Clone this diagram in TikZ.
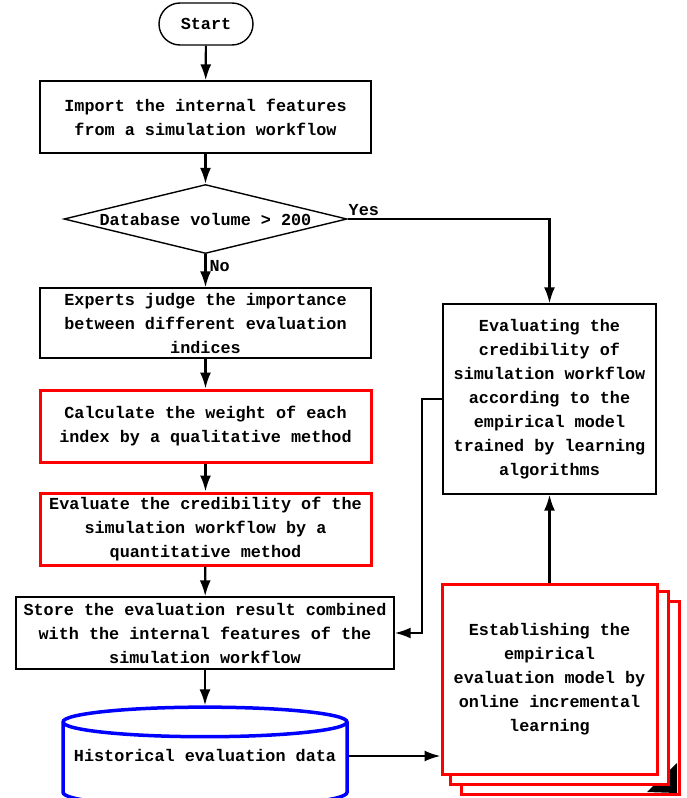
\documentclass[tikz,border=0pt]{standalone}
\usepackage{fontspec}
\setmainfont{Liberation Mono}
\usetikzlibrary{shapes, arrows.meta, backgrounds, positioning}

\begin{document}
\begin{tikzpicture}[x=1pt,y=-1pt,
	font=\fontsize{16.8}{24}\selectfont\bfseries,
	proc/.style={draw,rectangle,line width=1.4pt,align=center,inner sep=0pt},
	redproc/.style={proc,draw=red,line width=3pt},
	redpage/.style={draw=red,fill=white,line width=3pt},
	flow/.style={-{Latex[length=16pt,width=11pt]},line width=2.2pt}]
	  \useasboundingbox (0,0) rectangle (686,798);
	  \node at (206,24) (start) [proc,rounded corners=21pt,minimum width=94pt,minimum height=42pt]{Start};
	  \node at (205.5,117) (import) [proc,minimum width=331pt,minimum height=72pt]{Import the internal features\\from a simulation workflow};
	  \node at (205.5,219) (volume) [draw,diamond,aspect=4.1,line width=1.4pt,inner sep=0pt,minimum width=283pt,minimum height=69pt]{Database volume > 200};
	  \node at (205.5,323) (judge) [proc,minimum width=331pt,minimum height=70pt]{Experts judge the importance\\between different evaluation\\indices};
	  \node at (205.5,426) (weight) [redproc,minimum width=331pt,minimum height=72pt]{Calculate the weight of each\\index by a qualitative method};
	  \node at (205.5,529) (quant) [redproc,minimum width=331pt,minimum height=72pt]{Evaluate the credibility of the\\simulation workflow by a\\quantitative method};
	  \node at (205,633) (store) [proc,minimum width=378pt,minimum height=72pt]{Store the evaluation result combined\\with the internal features of the\\simulation workflow};
	  \node at (205,767) (hist) [draw=blue,cylinder,shape border rotate=90,aspect=0.11,line width=3.5pt,text depth=24pt,minimum width=284pt,minimum height=100pt]{Historical evaluation data};
	  \node at (549.5,399) (credit) [proc,minimum width=213pt,minimum height=190pt]{Evaluating the\\credibility of\\simulation workflow\\according to the\\empirical model\\trained by learning\\algorithms};
	  \node at (549.5,679) (learn) [redproc,fill=white,minimum width=215pt,minimum height=190pt]{Establishing the\\empirical\\evaluation model by\\online incremental\\learning};
	  \begin{scope}[on background layer]
	    \draw[redpage] ([shift={(21,19)}]learn.north west) rectangle ([shift={(21,19)}]learn.south east);
	    \fill (647,792) -- (677,763) -- (677,793) -- cycle;
	    \draw[redpage] ([shift={(10,9)}]learn.north west) rectangle ([shift={(10,9)}]learn.south east);
	  \end{scope}
	  \draw[flow](start) -- (import);
	  \draw[flow](import) -- (volume);
	  \draw[flow](volume) -- node[right,pos=0.35,inner sep=3pt]{No} (judge);
	  \draw[flow](volume.east) -| node[above,pos=0.04,inner sep=2pt]{Yes} (credit);
	  \draw[flow](judge) -- (weight);
	  \draw[flow](weight) -- (quant);
	  \draw[flow](quant) -- (store);
	  \draw[flow](store) -- (hist);
	  \draw[flow]([yshift=11pt]hist.east) -- ([yshift=11pt]hist.east -| learn.west);
	  \draw[flow](learn) -- (credit);
	  \draw[flow](credit.west) -- ++(-20,0) |- (store.east);
	\end{tikzpicture}
\end{document}
